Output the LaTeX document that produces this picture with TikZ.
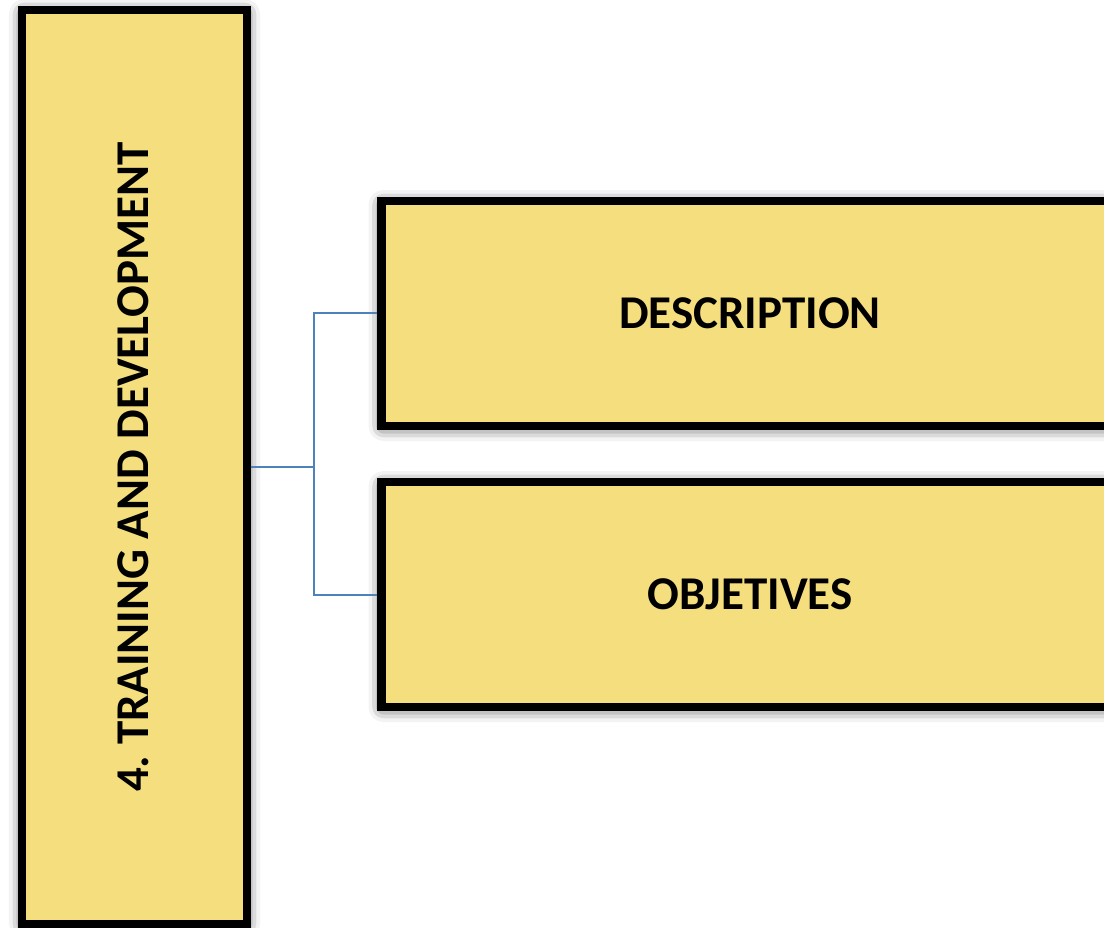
\documentclass[tikz,border=0pt]{standalone}
\usepackage{fontspec}
\setmainfont{Carlito}
\usetikzlibrary{shadows.blur}
\definecolor{boxfill}{RGB}{244,222,126}
\definecolor{conncol}{RGB}{79,129,189}
\tikzset{
  box/.style={draw=black, line width=8.5pt, fill=boxfill, inner sep=0pt,
    blur shadow={shadow xshift=0pt, shadow yshift=-2pt, shadow blur radius=13pt, shadow blur extra rounding=2pt, shadow opacity=75},
    font=\fontsize{47}{52}\selectfont\bfseries},
  conn/.style={draw=conncol, line width=2pt}
}
\begin{document}
\begin{tikzpicture}[x=1pt,y=1pt]
\useasboundingbox (0,0) rectangle (1104,-928);
\clip (0,0) rectangle (1104,-928);
\node[box, minimum width=225pt, minimum height=914pt] (L) at (134.5,-467) {};
\node[rotate=90, font=\fontsize{47}{52}\selectfont\bfseries] (Lt) at (133,-467) {4.\ TRAINING AND DEVELOPMENT};
\node[box, minimum width=737pt, minimum height=225pt] (D) at (750,-313.5) {DESCRIPTION};
\node[box, minimum width=737pt, minimum height=225pt] (O) at (750,-594.5) {OBJETIVES};
\coordinate (J) at (314,-467);
\draw[conn] (L.east) -- (J);
\draw[conn] (J) |- (D.west);
\draw[conn] (J) |- (O.west);
\end{tikzpicture}
\end{document}
